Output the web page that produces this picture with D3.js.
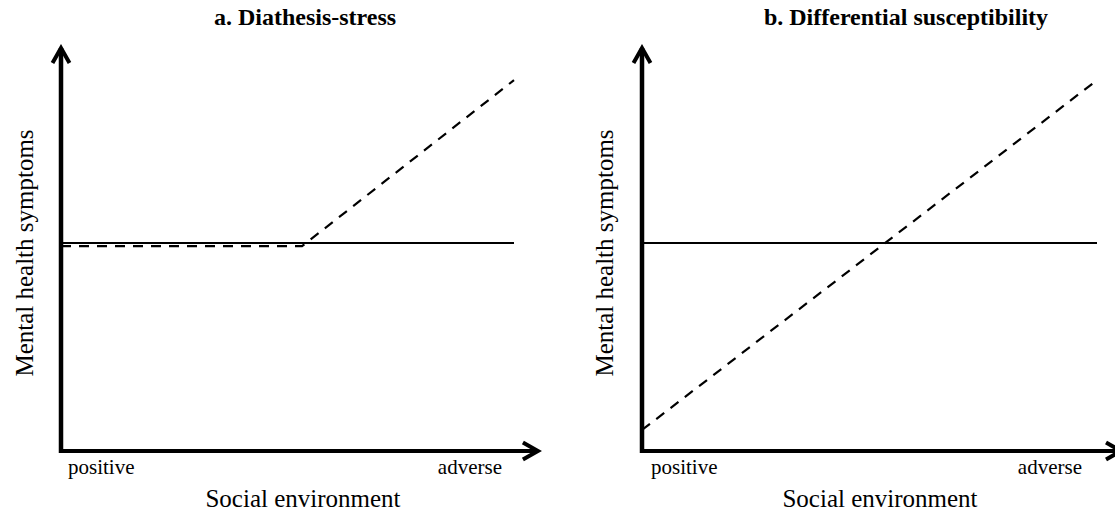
<!DOCTYPE html>
<html>
<head>
<meta charset="utf-8">
<script src="https://cdn.jsdelivr.net/npm/d3@7"></script>
<style>
  html, body { margin: 0; padding: 0; background: #fff; }
  svg { display: block; }
  text { font-family: "Liberation Serif", "Times New Roman", serif; fill: #000; }
</style>
</head>
<body>
<svg id="chart" width="1115" height="516"></svg>
<script>
// ---- data ----
const panelTitles = ["a. Diathesis-stress", "b. Differential susceptibility"];
const xAxisTitle = "Social environment";
const yAxisTitle = "Mental health symptoms";
const xEndLabels = ["positive", "adverse"];

// panel a (x: 0 = positive ... 1 = adverse ; y: 0 = low ... 1 = high symptoms)
const envA = [0, 0.532, 1];
const lowSuscA = [0.515, 0.515, 0.515];   // solid
const highSuscA = [0.507, 0.507, 0.918];  // dashed

// panel b
const envB = [0, 1];
const lowSuscB = [0.515, 0.515];          // solid
const highSuscB = [0.052, 0.918];         // dashed

// ---- layout ----
const svg = d3.select("#chart");
const panels = [
  { left: 61, right: 514, title: panelTitles[0], titleX: 305, env: envA, solid: lowSuscA, dashed: highSuscA,
    yTitleX: 33, xTitleX: 303, posX: 68, advX: 502 },
  { left: 642, right: 1097, title: panelTitles[1], titleX: 906, env: envB, solid: lowSuscB, dashed: highSuscB,
    yTitleX: 613, xTitleX: 880, posX: 651, advX: 1082 }
];
const yTop = 47, yBottom = 451;

const defs = svg.append("defs");
defs.append("marker")
  .attr("id", "arrow")
  .attr("markerUnits", "userSpaceOnUse")
  .attr("viewBox", "-20 -12 24 24")
  .attr("refX", 0).attr("refY", 0)
  .attr("markerWidth", 24).attr("markerHeight", 24)
  .attr("orient", "auto")
  .append("path")
  .attr("d", "M-15,-8.5 L0,0 L-15,8.5")
  .attr("fill", "none")
  .attr("stroke", "#000")
  .attr("stroke-width", 4)
  .attr("stroke-linejoin", "miter");

panels.forEach(p => {
  const x = d3.scaleLinear().domain([0, 1]).range([p.left, p.right]);
  const y = d3.scaleLinear().domain([0, 1]).range([yBottom, yTop]);
  const g = svg.append("g");

  // title
  g.append("text")
    .attr("x", p.titleX).attr("y", 25)
    .attr("text-anchor", "middle")
    .attr("font-weight", "bold")
    .attr("font-size", 24)
    .text(p.title);

  // axes with arrowheads
  g.append("line")
    .attr("x1", x(0)).attr("y1", y(0) + 2)
    .attr("x2", x(0)).attr("y2", y(1) + 1)
    .attr("stroke", "#000").attr("stroke-width", 4.5)
    .attr("marker-end", "url(#arrow)");
  g.append("line")
    .attr("x1", x(0) - 2).attr("y1", y(0))
    .attr("x2", x(1.055) - 1).attr("y2", y(0))
    .attr("stroke", "#000").attr("stroke-width", 4)
    .attr("marker-end", "url(#arrow)");

  const line = d3.line().x(d => x(d[0])).y(d => y(d[1]));

  g.append("path")
    .datum(p.env.map((e, i) => [e, p.solid[i]]))
    .attr("d", line)
    .attr("fill", "none").attr("stroke", "#000").attr("stroke-width", 2);

  g.append("path")
    .datum(p.env.map((e, i) => [e, p.dashed[i]]))
    .attr("d", line)
    .attr("fill", "none").attr("stroke", "#000").attr("stroke-width", 2.2)
    .attr("stroke-dasharray", "10,8");

  // end labels
  g.append("text").attr("x", p.posX).attr("y", 474).attr("font-size", 21)
    .attr("text-anchor", "start").text(xEndLabels[0]);
  g.append("text").attr("x", p.advX).attr("y", 474).attr("font-size", 21)
    .attr("text-anchor", "end").text(xEndLabels[1]);

  // axis titles
  g.append("text").attr("x", p.xTitleX).attr("y", 507).attr("font-size", 25)
    .attr("text-anchor", "middle").text(xAxisTitle);
  g.append("text")
    .attr("transform", `translate(${p.yTitleX},253) rotate(-90)`)
    .attr("font-size", 25)
    .attr("text-anchor", "middle").text(yAxisTitle);
});
</script>
</body>
</html>
